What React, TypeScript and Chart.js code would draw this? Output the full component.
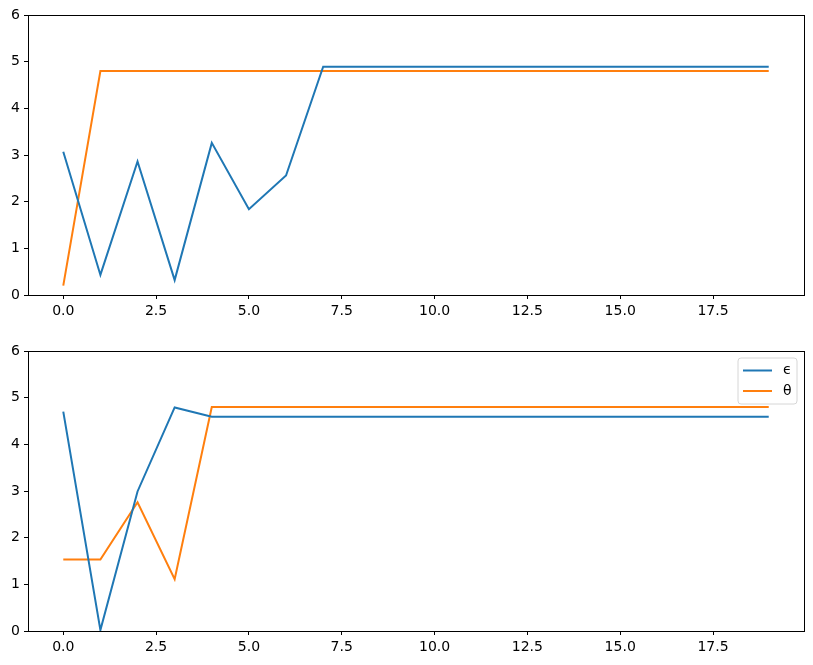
import React, { useEffect, useRef } from "react";
import { Chart, registerables } from "chart.js";
Chart.register(...registerables);

const xValues = [0, 1, 2, 3, 4, 5, 6, 7, 8, 9, 10, 11, 12, 13, 14, 15, 16, 17, 18, 19];
const xTicks = [0, 2.5, 5, 7.5, 10, 12.5, 15, 17.5];
const yTicks = [0, 1, 2, 3, 4, 5, 6];

const topEpsilon = [3.07, 0.43, 2.86, 0.32, 3.26, 1.84, 2.56, 4.89, 4.89, 4.89, 4.89, 4.89, 4.89, 4.89, 4.89, 4.89, 4.89, 4.89, 4.89, 4.89];
const topTheta = [0.2, 4.8, 4.8, 4.8, 4.8, 4.8, 4.8, 4.8, 4.8, 4.8, 4.8, 4.8, 4.8, 4.8, 4.8, 4.8, 4.8, 4.8, 4.8, 4.8];
const bottomEpsilon = [4.7, 0.02, 2.99, 4.79, 4.59, 4.59, 4.59, 4.59, 4.59, 4.59, 4.59, 4.59, 4.59, 4.59, 4.59, 4.59, 4.59, 4.59, 4.59, 4.59];
const bottomTheta = [1.53, 1.53, 2.76, 1.11, 4.8, 4.8, 4.8, 4.8, 4.8, 4.8, 4.8, 4.8, 4.8, 4.8, 4.8, 4.8, 4.8, 4.8, 4.8, 4.8];

const seriesLabels = ["ϵ", "θ"];
const BLUE = "#1f77b4";
const ORANGE = "#ff7f0e";

const framePlugin = {
  id: "frame",
  afterDraw(chart: any) {
    const { ctx, chartArea } = chart;
    ctx.save();
    ctx.strokeStyle = "#000";
    ctx.lineWidth = 1;
    ctx.strokeRect(
      Math.round(chartArea.left) + 0.5,
      Math.round(chartArea.top) + 0.5,
      Math.round(chartArea.right) - Math.round(chartArea.left),
      Math.round(chartArea.bottom) - Math.round(chartArea.top)
    );
    ctx.restore();
  },
};

const legendPlugin = {
  id: "mplLegend",
  afterDraw(chart: any, _args: any, opts: any) {
    if (!opts || !opts.show) return;
    const { ctx, chartArea } = chart;
    const w = 59;
    const h = 46;
    const x = chartArea.right - 7 - w;
    const y = chartArea.top + 7;
    ctx.save();
    ctx.beginPath();
    const r = 3;
    ctx.moveTo(x + r, y);
    ctx.lineTo(x + w - r, y);
    ctx.arcTo(x + w, y, x + w, y + r, r);
    ctx.lineTo(x + w, y + h - r);
    ctx.arcTo(x + w, y + h, x + w - r, y + h, r);
    ctx.lineTo(x + r, y + h);
    ctx.arcTo(x, y + h, x, y + h - r, r);
    ctx.lineTo(x, y + r);
    ctx.arcTo(x, y, x + r, y, r);
    ctx.closePath();
    ctx.fillStyle = "rgba(255,255,255,0.8)";
    ctx.fill();
    ctx.strokeStyle = "#d6d6d6";
    ctx.lineWidth = 1;
    ctx.stroke();
    ctx.font = "14px 'DejaVu Sans'";
    ctx.textBaseline = "middle";
    ctx.textAlign = "left";
    chart.data.datasets.forEach((ds: any, i: number) => {
      const ly = y + 12.5 + i * 20.5;
      ctx.strokeStyle = ds.borderColor;
      ctx.lineWidth = 2;
      ctx.beginPath();
      ctx.moveTo(x + 5, ly);
      ctx.lineTo(x + 34, ly);
      ctx.stroke();
      ctx.fillStyle = "#000";
      ctx.fillText(ds.label, x + 45, ly);
    });
    ctx.restore();
  },
};

function makeConfig(eps: number[], theta: number[], padTop: number, axisHeight: number, showLegend: boolean): any {
  return {
    type: "line",
    data: {
      datasets: [
        { label: seriesLabels[0], data: xValues.map((x, i) => ({ x, y: eps[i] })), borderColor: BLUE, backgroundColor: BLUE, borderWidth: 2, pointRadius: 0, tension: 0 },
        { label: seriesLabels[1], data: xValues.map((x, i) => ({ x, y: theta[i] })), borderColor: ORANGE, backgroundColor: ORANGE, borderWidth: 2, pointRadius: 0, tension: 0 },
      ],
    },
    options: {
      animation: false,
      responsive: false,
      maintainAspectRatio: false,
      layout: { padding: { top: padTop, left: 0, right: 9, bottom: 0 } },
      plugins: { legend: { display: false }, tooltip: { enabled: false }, mplLegend: { show: showLegend } },
      scales: {
        x: {
          type: "linear",
          min: -0.95,
          max: 19.95,
          afterBuildTicks: (s: any) => { s.ticks = xTicks.map((v) => ({ value: v })); },
          afterFit: (s: any) => { s.height = axisHeight; },
          border: { display: false },
          grid: { display: true, drawOnChartArea: false, drawTicks: true, tickLength: 4, color: "#000", lineWidth: 1 },
          ticks: { color: "#000", padding: 4, maxRotation: 0, autoSkip: false, font: { family: "DejaVu Sans", size: 14 }, callback: (v: any) => Number(v).toFixed(1) },
        },
        y: {
          type: "linear",
          min: 0,
          max: 6,
          afterBuildTicks: (s: any) => { s.ticks = yTicks.map((v) => ({ value: v })); },
          afterFit: (s: any) => { s.width = 28; },
          border: { display: false },
          grid: { display: true, drawOnChartArea: false, drawTicks: true, tickLength: 4, color: "#000", lineWidth: 1 },
          ticks: { color: "#000", padding: 4, autoSkip: false, font: { family: "DejaVu Sans", size: 14 }, callback: (v: any) => String(v) },
        },
      },
    },
    plugins: [framePlugin, legendPlugin],
  };
}

function Panel(props: { eps: number[]; theta: number[]; top: number; height: number; padTop: number; axisHeight: number; legend: boolean }) {
  const ref = useRef<HTMLCanvasElement | null>(null);
  useEffect(() => {
    if (!ref.current) return;
    const chart = new Chart(ref.current, makeConfig(props.eps, props.theta, props.padTop, props.axisHeight, props.legend));
    return () => chart.destroy();
  }, []);
  return (
    <div style={{ position: "absolute", left: 0, top: props.top, width: 813, height: props.height }}>
      <canvas ref={ref} width={813} height={props.height} style={{ width: 813, height: props.height, display: "block" }} />
    </div>
  );
}

export default function App() {
  return (
    <div style={{ position: "absolute", left: 0, top: 0, width: 813, height: 665, background: "#fff" }}>
      <Panel eps={topEpsilon} theta={topTheta} top={0} height={332} padTop={15} axisHeight={37} legend={false} />
      <Panel eps={bottomEpsilon} theta={bottomTheta} top={332} height={333} padTop={19} axisHeight={34} legend={true} />
    </div>
  );
}
